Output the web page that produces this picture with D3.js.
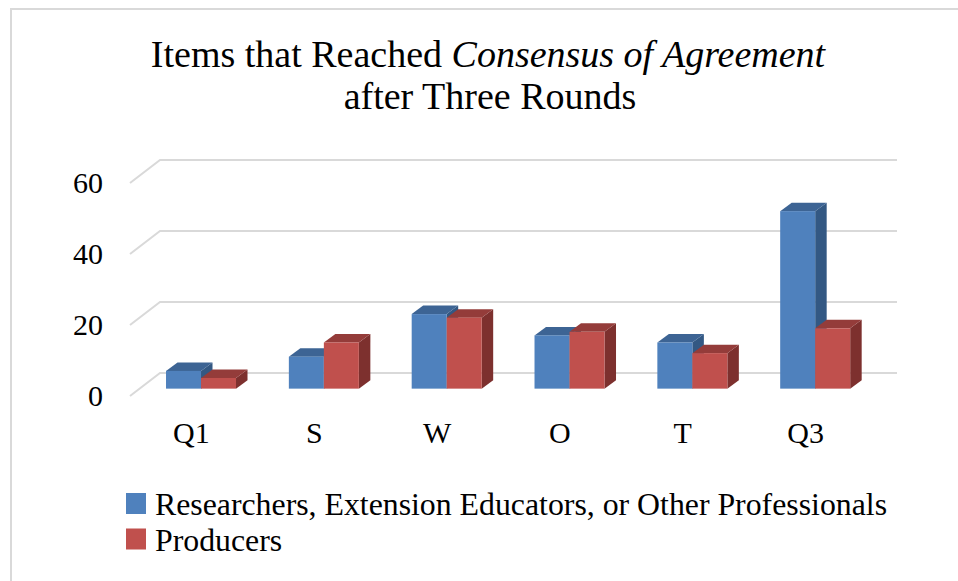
<!DOCTYPE html>
<html lang="en">
	<head>
		<meta charset="utf-8">
		<title>Items that Reached Consensus of Agreement</title>
		<script type="text/javascript" src="https://cdn.jsdelivr.net/npm/d3@7"></script>
		<style type="text/css">
			body {
				margin: 0;
				background-color: white;
			}
			text {
				font-family: 'Liberation Serif', 'Times New Roman', Times, serif;
			}
			.grid {
				stroke: #d9d9d9;
				stroke-width: 2;
				fill: none;
			}
		</style>
	</head>
	<body>
		<script type="text/javascript">

			var categories = ["Q1", "S", "W", "O", "T", "Q3"];
			var seriesNames = ["Researchers, Extension Educators, or Other Professionals", "Producers"];
			var researchers = [5, 9, 21, 15, 13, 50];
			var producers = [3, 13, 20, 16, 10, 17];
			var yTicks = [0, 20, 40, 60];

			var colors = [
				{front: "#4f81bd", top: "#3d6494", side: "#335883"},
				{front: "#c0504d", top: "#943c3a", side: "#7d302e"}
			];

			var svg = d3.select("body")
						.append("svg")
						.attr("width", 958)
						.attr("height", 581);

			// chart frame, runs off the right and bottom
			svg.append("rect")
				.attr("x", 11)
				.attr("y", 9)
				.attr("width", 1000)
				.attr("height", 700)
				.attr("fill", "white")
				.attr("stroke", "#d9d9d9")
				.attr("stroke-width", 2);

			// front plane of the 3d box
			var x = d3.scaleBand()
						.domain(categories)
						.range([130, 867]);

			var y = d3.scaleLinear()
						.domain([0, 60])
						.range([396, 183]);

			var depthX = 30, depthY = -23;     // front -> back wall
			var barPos = 0.32;                 // depth of bar front face
			var barDX = 11.5, barDY = -8.5;    // bar depth

			// gridlines: back wall line plus left diagonal
			var grid = svg.append("g");
			yTicks.forEach(function(t) {
				var yf = y(t);
				grid.append("path")
					.attr("class", "grid")
					.attr("d", "M130," + yf + "L" + (130 + depthX) + "," + (yf + depthY) + "L" + (867 + depthX) + "," + (yf + depthY));
			});

			// y tick labels
			svg.selectAll(".ytick")
				.data(yTicks)
				.enter()
				.append("text")
				.attr("class", "ytick")
				.attr("x", 103)
				.attr("y", function(d) { return y(d); })
				.attr("dy", "0.34em")
				.attr("text-anchor", "end")
				.attr("font-size", 30)
				.text(function(d) { return d; });

			// category labels
			svg.selectAll(".xtick")
				.data(categories)
				.enter()
				.append("text")
				.attr("class", "xtick")
				.attr("x", function(d) { return x(d) + x.bandwidth() / 2; })
				.attr("y", 443)
				.attr("text-anchor", "middle")
				.attr("font-size", 30)
				.text(function(d) { return d; });

			// bars
			var rows = [];
			categories.forEach(function(c, i) {
				rows.push({cat: c, s: 0, v: researchers[i]});
				rows.push({cat: c, s: 1, v: producers[i]});
			});

			var sub = d3.scaleBand()
						.domain([0, 1])
						.range([0, 70]);

			var offX = depthX * barPos, offY = depthY * barPos;
			var bars = svg.append("g")
							.selectAll("g")
							.data(rows)
							.enter()
							.append("g");

			function geom(d) {
				var x0 = x(d.cat) + x.bandwidth() / 2 - 35 + sub(d.s) + offX;
				var w = sub.bandwidth();
				var yb = y(0) + offY;
				var yt = y(d.v) + offY;
				return {x0: x0, x1: x0 + w, yb: yb, yt: yt};
			}

			bars.append("path")
				.attr("fill", function(d) { return colors[d.s].side; })
				.attr("d", function(d) {
					var g = geom(d);
					return "M" + g.x1 + "," + g.yb + "L" + (g.x1 + barDX) + "," + (g.yb + barDY) +
						"L" + (g.x1 + barDX) + "," + (g.yt + barDY) + "L" + g.x1 + "," + g.yt + "Z";
				});

			bars.append("path")
				.attr("fill", function(d) { return colors[d.s].top; })
				.attr("d", function(d) {
					var g = geom(d);
					return "M" + g.x0 + "," + g.yt + "L" + (g.x0 + barDX) + "," + (g.yt + barDY) +
						"L" + (g.x1 + barDX) + "," + (g.yt + barDY) + "L" + g.x1 + "," + g.yt + "Z";
				});

			bars.append("rect")
				.attr("fill", function(d) { return colors[d.s].front; })
				.attr("x", function(d) { return geom(d).x0; })
				.attr("y", function(d) { return geom(d).yt; })
				.attr("width", sub.bandwidth())
				.attr("height", function(d) { var g = geom(d); return g.yb - g.yt; });

			// title
			var title = svg.append("text")
							.attr("text-anchor", "middle")
							.attr("font-size", 38);
			var t1 = title.append("tspan")
							.attr("x", 488)
							.attr("y", 67);
			t1.append("tspan").text("Items that Reached ");
			t1.append("tspan").attr("font-style", "italic").text("Consensus of Agreement");
			title.append("tspan")
				.attr("x", 490)
				.attr("y", 109)
				.text("after Three Rounds");

			// legend
			var legend = svg.selectAll(".legend")
							.data(seriesNames)
							.enter()
							.append("g")
							.attr("class", "legend")
							.attr("transform", function(d, i) { return "translate(126," + (493 + i * 35.5) + ")"; });

			legend.append("rect")
				.attr("width", 20)
				.attr("height", 21)
				.attr("fill", function(d, i) { return colors[i].front; });

			legend.append("text")
				.attr("x", 29)
				.attr("y", 22)
				.attr("font-size", 31.8)
				.text(function(d) { return d; });

		</script>
	</body>
</html>
